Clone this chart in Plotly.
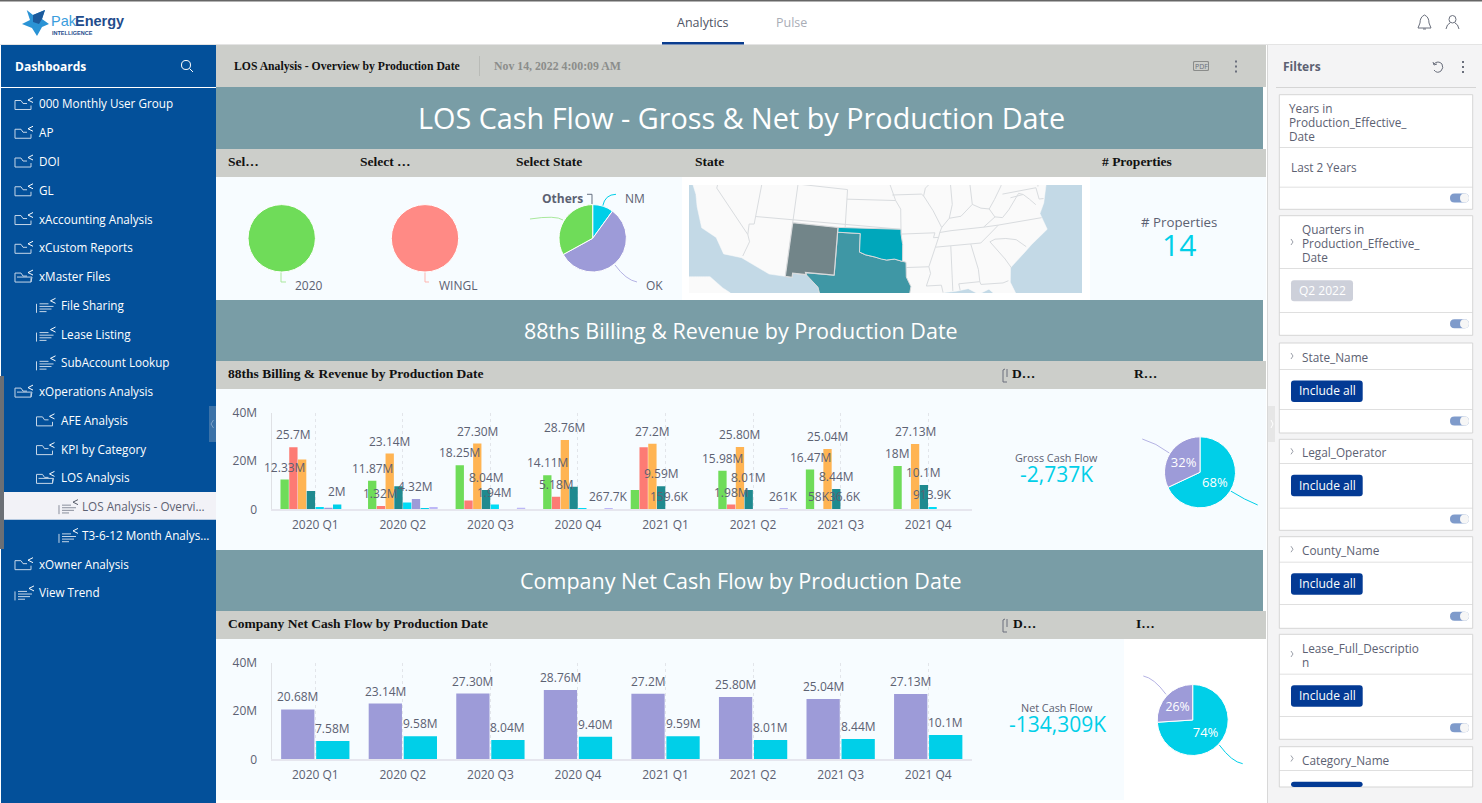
import re
import numpy as np
import plotly.graph_objects as go

W, H = 1482, 803

# ---- data ----
quarters = ["2020 Q1", "2020 Q2", "2020 Q3", "2020 Q4", "2021 Q1", "2021 Q2", "2021 Q3", "2021 Q4"]
y_ticks = [0, 20, 40]
y_tick_labels = ["0", "20M", "40M"]

gross_green = [12.33, 11.87, 18.25, 14.11, 8.0, 15.98, 16.47, 18]
gross_red = [25.7, 1.32, 3.6, 5.18, 25.7, 1.98, 0.058, 0.15]
gross_orange = [20.68, 23.14, 27.30, 28.76, 27.2, 25.80, 25.04, 27.13]
gross_teal = [7.58, 9.58, 8.04, 9.40, 9.59, 8.01, 8.44, 10.1]
gross_aqua = [1.0, 2.8, 1.94, 0.2, 0.1596, 0.05, 0.0366, 0.9139]
gross_purple = [0.6, 4.32, 0, 0, 0, 0, 0, 0]
gross_cyan = [2, 0.2, 0, 0, 0, 0, 0, 0]
gross_lilac = [0, 1.0, 0.6, 0.2677, 0, 0.261, 0, 0]

green_labels = ["12.33M", "11.87M", "18.25M", "14.11M", "", "15.98M", "16.47M", "18M"]
red_labels = ["25.7M", "1.32M", "", "5.18M", "", "1.98M", "58K", ""]
orange_labels = ["", "23.14M", "27.30M", "28.76M", "27.2M", "25.80M", "25.04M", "27.13M"]
teal_labels = ["", "", "8.04M", "", "9.59M", "8.01M", "8.44M", "10.1M"]
aqua_labels = ["", "", "1.94M", "", "159.6K", "", "36.6K", "913.9K"]
purple_labels = ["", "4.32M", "", "", "", "", "", ""]
cyan_labels = ["2M", "", "", "", "", "", "", ""]
lilac_labels = ["", "", "", "267.7K", "", "261K", "", ""]

gross_series = [
    (gross_green, green_labels, "#6fdc59"),
    (gross_red, red_labels, "#fd7b74"),
    (gross_orange, orange_labels, "#ffb453"),
    (gross_teal, teal_labels, "#1f8a8f"),
    (gross_aqua, aqua_labels, "#00dcf5"),
    (gross_purple, purple_labels, "#9d9bd8"),
    (gross_cyan, cyan_labels, "#00cfe8"),
    (gross_lilac, lilac_labels, "#bdb8f7"),
]

net_purple = [20.68, 23.14, 27.30, 28.76, 27.2, 25.80, 25.04, 27.13]
net_cyan = [7.58, 9.58, 8.04, 9.40, 9.59, 8.01, 8.44, 10.1]
net_purple_labels = ["20.68M", "23.14M", "27.30M", "28.76M", "27.2M", "25.80M", "25.04M", "27.13M"]
net_cyan_labels = ["7.58M", "9.58M", "8.04M", "9.40M", "9.59M", "8.01M", "8.44M", "10.1M"]

state_labels = ["NM", "OK", "Others"]
state_values = [10, 57, 33]
gross_pie_values = [68, 32]
net_pie_values = [74, 26]

sidebar_items = ["000 Monthly User Group", "AP", "DOI", "GL", "xAccounting Analysis", "xCustom Reports",
                 "xMaster Files", "File Sharing", "Lease Listing", "SubAccount Lookup", "xOperations Analysis",
                 "AFE Analysis", "KPI by Category", "LOS Analysis", "LOS Analysis - Overvi...",
                 "T3-6-12 Month Analys...", "xOwner Analysis", "View Trend"]
sidebar_levels = [0, 0, 0, 0, 0, 0, 0, 1, 1, 1, 0, 1, 1, 1, 2, 2, 0, 0]
sidebar_icons = ["f", "f", "f", "f", "f", "f", "o", "r", "r", "r", "o", "f", "f", "o", "r", "r", "f", "r"]

# map outlines, lon / lat
land_lon = [-124.7, -124.2, -124, -123.8, -122.5, -121.9, -120.6, -118.5, -117.1, -114.8, -111.07, -108.2, -108.2,
            -106.5, -104.9, -104.5, -103.2, -102.4, -101.4, -100.3, -99.5, -97.4, -97.4, -96, -94.7, -93.8, -92,
            -90.9, -89.4, -89.4, -88, -86.5, -85.3, -84, -83, -82.6, -81.8, -80.3, -80, -81.3, -81, -79, -77.9,
            -75.5, -76, -75.2, -74, -72, -70, -67, -67]
land_lat = [49, 41.9, 40.4, 39.3, 37.8, 36.6, 34.6, 34, 32.5, 32.5, 31.33, 31.33, 31.78,
            31.78, 30.6, 29.6, 29, 29.8, 29.77, 28.3, 27.5, 25.85, 27.3, 28.5, 29.4, 29.7, 29.6,
            29.05, 29, 30.2, 30.25, 30.4, 29.7, 30.1, 29.1, 27.8, 26, 25.3, 26.8, 30.5, 32, 33.3, 34,
            35.25, 37, 38, 40.5, 41, 41.7, 45, 49]
baja_lon = [-123, -118.1, -116.3, -115.3, -115, -123]
baja_lat = [28.7, 29.85, 29, 28.65, 27.5, 27]
nm_lon = [-109.05, -103, -103.04, -106.62, -106.5, -108.2, -108.2, -109.05, -109.05]
nm_lat = [37, 37, 32, 32, 31.78, 31.78, 31.33, 31.33, 37]
ok_lon = [-103, -94.62, -94.62, -94.43, -94.48, -95.5, -96.5, -97.2, -98, -99.2, -100, -100, -103, -103]
ok_lat = [37, 37, 36.5, 35.4, 33.64, 33.9, 33.8, 33.9, 34.1, 34.3, 34.56, 36.5, 36.5, 37]
tx_lon = [-103, -100, -100, -99.2, -98, -97.2, -96.5, -95.5, -94.48, -94.04, -94.04, -93.5, -93.8, -94.7, -96, -97.4,
          -97.4, -99.5, -100.3, -101.4, -102.4, -103.2, -104.5, -104.9, -106.5, -106.62, -103.04, -103]
tx_lat = [36.5, 36.5, 34.56, 34.3, 34.1, 33.9, 33.8, 33.9, 33.64, 33.55, 32, 31, 29.7, 29.4, 28.5, 27.3,
          25.85, 27.5, 28.3, 29.77, 29.8, 29, 29.6, 30.6, 31.78, 32, 32, 36.5]
state_borders = [
    [(-120, 42), (-120, 39), (-114.6, 35)],
    [(-114.05, 42), (-114.05, 36.2), (-114.7, 36.1), (-114.6, 35), (-114.2, 34.3), (-114.7, 32.7)],
    [(-114.05, 37), (-94.62, 37)],
    [(-109.05, 41), (-109.05, 37)],
    [(-111.05, 42), (-111.05, 41), (-102.05, 41), (-102.05, 37)],
    [(-102.05, 40), (-95.3, 40), (-94.62, 39.1), (-94.62, 36.5), (-90.15, 36.5), (-90.37, 36), (-89.7, 36)],
    [(-95.3, 40), (-95.9, 41.3), (-96.5, 42.5)],
    [(-94.04, 33), (-91.17, 33)],
    [(-91.1, 41.2), (-91.4, 40.4), (-90.2, 38.8), (-89.2, 37), (-89.5, 36.5), (-89.7, 36), (-90.2, 35), (-91.17, 33),
     (-91, 32.3), (-91.6, 31), (-89.75, 31), (-89.6, 30.2)],
    [(-91.1, 41.2), (-90.2, 41.8), (-90.6, 42.5)],
    [(-95.77, 40.58), (-91.7, 40.6), (-91.4, 40.4)],
    [(-89.2, 37), (-88.1, 37.9), (-86.5, 38), (-85.4, 38.7), (-84.8, 39.1), (-83.7, 38.6), (-82.6, 38.4)],
    [(-87.53, 42), (-87.53, 39.3), (-88.1, 37.9)],
    [(-84.8, 42), (-84.8, 39.1)],
    [(-89.5, 36.5), (-88, 36.6), (-83.67, 36.6), (-81.7, 36.6), (-75.9, 36.55)],
    [(-90.2, 35), (-84.3, 35), (-83, 35.8), (-81.7, 36.6)],
    [(-88.2, 35), (-88.4, 30.3)],
    [(-85.6, 35), (-85, 32.3), (-85, 31)],
    [(-87.5, 30.3), (-87.6, 31), (-85, 31), (-84.9, 30.7), (-82.2, 30.55), (-81.5, 30.7)],
    [(-83.1, 35), (-81.5, 33), (-80.9, 32)],
    [(-83.1, 35), (-82.4, 35.2), (-81, 35.1), (-79.7, 34.8), (-78.6, 33.9)],
    [(-81.97, 37.5), (-83.67, 36.6)],
    [(-82.6, 38.4), (-82, 37.5), (-81, 37.3), (-80, 38), (-78.3, 39.5), (-77.7, 39.3)],
    [(-80.5, 42), (-80.5, 40.6), (-81.7, 39.3), (-82.6, 38.4)],
    [(-80.5, 39.72), (-75.8, 39.72), (-75.7, 38.5), (-75.1, 38.45)],
    [(-79.5, 39.2), (-77.7, 39.3), (-77, 38.7), (-76.3, 38)],
    [(-79.8, 42.2), (-75.4, 42), (-74.7, 41.4), (-75.2, 40.6), (-75.5, 39.8)],
    [(-87.5, 41.75), (-84.8, 41.75), (-83.5, 41.73), (-82.5, 41.4), (-81, 41.9)],
]

filter_cards = [
    {"title": ["Years in", "Production_Effective_", "Date"], "value": "Last 2 Years", "kind": "text"},
    {"title": ["Quarters in", "Production_Effective_", "Date"], "value": "Q2 2022", "kind": "chip"},
    {"title": ["State_Name"], "value": "Include all", "kind": "btn"},
    {"title": ["Legal_Operator"], "value": "Include all", "kind": "btn"},
    {"title": ["County_Name"], "value": "Include all", "kind": "btn"},
    {"title": ["Lease_Full_Descriptio", "n"], "value": "Include all", "kind": "btn"},
    {"title": ["Category_Name"], "value": "Include all", "kind": "btn"},
]

# ---- colours ----
GRAY_BAR = "#ccceca"
TEAL_BANNER = "#799da6"
PALE = "#f7fcff"
SIDE = "#03509a"
TXT = "#5c6172"
CYAN = "#00cfe8"
PURPLE = "#9d9bd8"
SANS = "Open Sans"
SERIF = "Liberation Serif"

shapes = []
annotations = []


def px(x):
    return x / W


def py(y):
    return 1 - y / H


def rect(x0, y0, x1, y1, fill, line=None, lw=1):
    shapes.append(dict(type="rect", xref="paper", yref="paper", layer="below", x0=px(x0), x1=px(x1), y0=py(y0), y1=py(y1),
                       fillcolor=fill, line=dict(color=line, width=lw) if line else dict(width=0)))


# path written in page pixels, converted here to paper units
def path(d, color=None, lw=1, fill=None):
    toks = re.findall(r"[A-Za-z]|-?\d+\.?\d*", d)
    out, i = [], 0
    for t in toks:
        if t.isalpha():
            out.append(t)
        else:
            out.append(f"{px(float(t)) if i % 2 == 0 else py(float(t)):.5f}")
            i += 1
    shapes.append(dict(type="path", xref="paper", yref="paper", layer="below", path=" ".join(out),
                       fillcolor=fill if fill else "rgba(0,0,0,0)",
                       line=dict(color=color, width=lw) if color else dict(width=0)))


def txt(x, y, s, size=12, color=TXT, family=SANS, anchor="left", bold=False):
    annotations.append(dict(xref="paper", yref="paper", x=px(x), y=py(y), text=f"<b>{s}</b>" if bold else s,
                            showarrow=False, xanchor=anchor, yanchor="middle", borderpad=0, borderwidth=0,
                            font=dict(size=size, color=color, family=family)))


def round_rect(x0, y0, x1, y1, r, fill):
    path(f"M {x0 + r} {y0} L {x1 - r} {y0} Q {x1} {y0} {x1} {y0 + r} L {x1} {y1 - r} Q {x1} {y1} {x1 - r} {y1} "
         f"L {x0 + r} {y1} Q {x0} {y1} {x0} {y1 - r} L {x0} {y0 + r} Q {x0} {y0} {x0 + r} {y0} Z", fill=fill)


def dots(x, y):
    for dy in (-5, 0, 5):
        rect(x - 1, y + dy - 1, x + 1, y + dy + 1, "#6a6f7c")


def share(x, y, color="#ffffff"):
    path(f"M {x + 5} {y - 2.5} L {x} {y} L {x + 5} {y + 2.5}", color=color, lw=1)


def sidebar_icon(kind, x, y, color):
    if kind == "r":
        for k, ln in enumerate((9, 14, 12, 7)):
            path(f"M {x + 3} {y - 1 + k * 2.6} L {x + 3 + ln} {y - 1 + k * 2.6}", color=color, lw=1)
        path(f"M {x} {y - 1} L {x} {y + 8}", color=color, lw=1)
        share(x + 14, y - 4, "#ffffff" if color != "#8a8f9c" else "#555a68")
    else:
        path(f"M {x} {y - 3} L {x + 6} {y - 3} L {x + 8} {y} L {x + 12} {y} M {x} {y - 3} L {x} {y + 6} "
             f"L {x + 16} {y + 6} L {x + 16} {y + 2}", color="#c6d6e8", lw=1)
        if kind == "o":
            path(f"M {x + 2} {y + 1} L {x + 17} {y + 1} L {x + 16} {y + 6}", color="#c6d6e8", lw=1)
        share(x + 13, y - 3.5)


# ---- page chrome ----
rect(0, 0, W, 1.5, "#666666")
rect(0, 44, W, 45, "#e4e4e4")
# logo
path("M 26.7 10 L 33 15 L 45 10 L 42 19 L 49 24 L 42 27 L 37 36 L 32 28 L 22 24 L 30 20 Z", fill="#2a93d5")
path("M 33 15 L 45 10 L 42 19 L 39 24 L 33 22 Z", fill="#1c5a9c")
txt(51, 21, "Pak", 14.5, "#3a9ddd", "Liberation Sans")
txt(75, 21, "Energy", 14.5, "#1f4c8c", "Liberation Sans", bold=True)
txt(52, 33.5, "INTELLIGENCE", 5.5, "#1f4c8c", "Liberation Sans", bold=True)
# tabs
txt(702.5, 22.5, "Analytics", 12.5, "#4f5566", anchor="center")
txt(791, 22.5, "Pulse", 12.5, "#a9adb6", anchor="center")
rect(662, 42, 744, 44.5, "#0a3d8f")
# bell + user
path("M 1424.5 15 Q 1420 17 1420 23 L 1418 28 L 1431 28 L 1429 23 Q 1429 17 1424.5 15 Z M 1423 29 L 1426 29", color="#6a6f7c")
path("M 1452.5 15.5 Q 1456 15.5 1456 19.5 Q 1456 23 1452.5 23 Q 1449 23 1449 19.5 Q 1449 15.5 1452.5 15.5 Z "
     "M 1446 29 Q 1447 24 1450 23 M 1459 29 Q 1458 24 1455 23", color="#6a6f7c")

# sidebar
rect(1, 45, 216, H, SIDE)
rect(0, 376, 4, 549, "#6b6f75")
rect(1, 87, 216, 88, "#ffffff")
txt(15, 66.5, "Dashboards", 12, "#ffffff", bold=True)
path("M 186 60.5 Q 190.5 60.5 190.5 65 Q 190.5 69.5 186 69.5 Q 181.5 69.5 181.5 65 Q 181.5 60.5 186 60.5 Z "
     "M 189.5 68.5 L 193 72", color="#ffffff")
rect(4, 492, 216, 519.7, "#f2f2f7")
for i, (name, lvl, ic) in enumerate(zip(sidebar_items, sidebar_levels, sidebar_icons)):
    y = 103.5 + i * 28.76
    selected = i == 14
    sidebar_icon(ic, 15 + 21.5 * lvl + (1 if lvl == 2 else 0), y, "#8a8f9c" if selected else "#c6d6e8")
    txt(39 + 21.5 * lvl, y, name, 11.7, TXT if selected else "#ffffff")
rect(209, 406, 216, 442, "#3b72a8")
path("M 213.5 420 L 211 424 L 213.5 428", color="#7fa3c8")

# toolbar and banners
rect(216, 45, 1266, 87, GRAY_BAR)
txt(234, 66, "LOS Analysis - Overview by Production Date", 11.7, "#111111", SERIF, bold=True)
rect(479, 56, 480, 76, "#b9bbb7")
txt(494, 66, "Nov 14, 2022 4:00:09 AM", 11.8, "#8b8d8b", SERIF, bold=True)
round_rect(1193, 61, 1209, 71, 1.5, "#8a8c8a")
round_rect(1194, 62, 1208, 70, 1, GRAY_BAR)
txt(1201, 66, "PDF", 7, "#6a6f7c", anchor="center")
dots(1236, 66.5)

banners = [(87, 149, "LOS Cash Flow - Gross &amp; Net by Production Date", 28.8),
           (300, 361, "88ths Billing &amp; Revenue by Production Date", 21.5),
           (550, 611, "Company Net Cash Flow by Production Date", 21.5)]
for y0, y1, label, size in banners:
    rect(216, y0, 1263, y1, TEAL_BANNER)
    txt(741, (y0 + y1) / 2 - 0.5, label, size, "#ffffff", anchor="center")

header_rows = [(149, 177, [(228, "Sel…"), (360, "Select …"), (516, "Select State"), (695, "State"), (1102, "# Properties")]),
               (361, 389, [(228, "88ths Billing &amp; Revenue by Production Date"), (1012, "D…"), (1134, "R…")]),
               (611, 639, [(228, "Company Net Cash Flow by Production Date"), (1013, "D…"), (1136, "I…")])]
for y0, y1, items in header_rows:
    rect(216, y0, 1266, y1, GRAY_BAR)
    for x, label in items:
        txt(x, (y0 + y1) / 2 - 1.5, label, 13.5, "#111111", SERIF, bold=True)
for y in (375, 625):
    path(f"M 1005 {y - 6} L 1003 {y - 5} L 1003 {y + 7} L 1007 {y + 7} M 1007 {y - 6} L 1007 {y + 2}", color="#6a6f7c")

# panels
rect(216, 177, 1266, 300, PALE)
rect(682, 177, 1090, 300, "#ffffff")
rect(689, 185, 1082, 293, "#c3d9e6")
rect(216, 389, 1266, 550, PALE)
rect(216, 639, 1124, 800, PALE)

# kpi text
txt(1179, 222, "# Properties", 13.3, TXT, anchor="center")
txt(1179, 244, "14", 30, CYAN, anchor="center")
txt(1056, 457.5, "Gross Cash Flow", 10.8, TXT, anchor="center")
txt(1056, 474, "-2,737K", 21, CYAN, anchor="center")
txt(1057, 707.5, "Net Cash Flow", 10.8, TXT, anchor="center")
txt(1057, 724, "-134,309K", 21, CYAN, anchor="center")

# pie labels and leader lines
txt(295, 285, "2020", 12, TXT)
txt(439, 285, "WINGL", 12, TXT)
txt(542, 198, "Others", 12, TXT, bold=True)
txt(625, 198, "NM", 12, TXT)
txt(646, 285, "OK", 12, TXT)
path("M 281 272 L 281 282 L 286 282", color="#a9e89c")
path("M 425 272 L 425 282 L 429 282", color="#ffb5b0")
path("M 587 194.3 L 592 194.3 L 592 204", color="#667080")
path("M 602.7 206 Q 605 194.5 616 194.3", color=CYAN)
path("M 615 265 Q 626 280 637 282", color="#b5b3e4")
path("M 563 220 Q 556 215 530 219", color="#a9e89c")
path("M 1169.3 453 Q 1156 443 1142.3 439", color="#b5b3e4")
path("M 1230.7 491 Q 1245 500 1257.7 505", color=CYAN)
path("M 1166 694.3 Q 1154 678 1143.3 676", color="#b5b3e4")
path("M 1219.3 745 Q 1232 762 1242.7 763.7", color=CYAN)

# filter panel
rect(1267, 45, 1268, H, "#d8d8d8")
rect(1268, 45, W, H, "#f4f4f5")
rect(1268, 406, 1275, 442, "#e6e6e6")
path("M 1271 420 L 1273 424 L 1271 428", color="#ffffff")
txt(1283, 66.5, "Filters", 12, TXT, bold=True)
path("M 1434 64 Q 1438 60 1442 64 Q 1444 68 1441 71 Q 1437 74 1434 70 M 1433 62 L 1434 65 L 1437 64", color="#6a6f7c")
dots(1463, 67)
rect(1276, 87, 1476, 88, "#d5d5d5")

card_tops = [94.7, 215.7, 343, 439.3, 536.7, 634.3, 746.7]
card_line1 = [147.3, 268.3, 369, 463.3, 561.7, 673.7, 770.3]
card_line2 = [186.7, 312.3, 409, 507.7, 604.3, 716.3, None]
card_bottoms = [209.3, 335.3, 433, 530.3, 628.3, 739.3, 787]
for c, t, l1, l2, b in zip(filter_cards, card_tops, card_line1, card_line2, card_bottoms):
    rect(1279.3, t, 1472.7, b, "#ffffff", "#d5d5d5")
    rect(1279.3, l1, 1472.7, l1 + 0.8, "#d5d5d5")
    n = len(c["title"])
    tx = 1289 if c["kind"] == "text" else 1301.7
    for k, line in enumerate(c["title"]):
        txt(tx, (t + l1) / 2 + 1 + (k - (n - 1) / 2) * 14.3, line, 11.8, TXT)
    if c["kind"] != "text":
        ym = (t + l1) / 2
        path(f"M 1291 {ym - 3} L 1293 {ym} L 1291 {ym + 3}", color="#9a9ea8")
    bot = l2 if l2 else b
    if c["kind"] == "text":
        txt(1291, (l1 + bot) / 2, c["value"], 11.8, TXT)
    elif c["kind"] == "chip":
        round_rect(1291, l1 + 12, 1353, l1 + 33, 3, "#cdd0da")
        txt(1322, l1 + 22.5, c["value"], 12, "#ffffff", anchor="center")
    else:
        round_rect(1291, l1 + 11.5, 1362.7, min(l1 + 33, b), 3, "#033a94")
        if l2:
            txt(1327, l1 + 21.8, c["value"], 12, "#ffffff", anchor="center")
    if l2:
        rect(1279.3, l2, 1472.7, l2 + 0.8, "#d5d5d5")
        ym = (l2 + b) / 2
        round_rect(1450, ym - 4.5, 1469, ym + 4.5, 4.5, "#7f9bcb")
        round_rect(1460, ym - 4.5, 1469, ym + 4.5, 4.5, "#f6f6f6")


# bar labels go in annotations so they sit over every bar
def bar_labels(vals, labels, idx, n, xname, yname):
    for i, (v, lab) in enumerate(zip(vals, labels)):
        if lab:
            annotations.append(dict(xref=xname, yref=yname, x=i + (idx - (n - 1) / 2) * 0.8 / n, y=v, text=lab,
                                    showarrow=False, xanchor="center", yanchor="bottom", yshift=3, borderpad=0,
                                    font=dict(size=12, color=TXT, family=SANS)))


# ---- traces ----
fig = go.Figure()
for k, (vals, labels, color) in enumerate(gross_series):
    fig.add_trace(go.Bar(x=quarters, y=vals, marker=dict(color=color), xaxis="x", yaxis="y",
                         hoverinfo="skip", showlegend=False))
    bar_labels(vals, labels, k, len(gross_series), "x", "y")
net_series = [(net_purple, net_purple_labels, PURPLE), (net_cyan, net_cyan_labels, CYAN)]
for k, (vals, labels, color) in enumerate(net_series):
    fig.add_trace(go.Bar(x=quarters, y=vals, marker=dict(color=color), xaxis="x2", yaxis="y2",
                         hoverinfo="skip", showlegend=False))
    bar_labels(vals, labels, k, len(net_series), "x2", "y2")


def pie_domain(cx, cy, r):
    return dict(x=[px(cx - r), px(cx + r)], y=[py(cy + r), py(cy - r)])


pie_line = dict(color="#ffffff", width=1)
fig.add_trace(go.Pie(values=[1], labels=["2020"], marker=dict(colors=["#6fdc59"], line=pie_line), textinfo="none",
                     domain=pie_domain(281.7, 238.3, 33.7), sort=False, hoverinfo="skip", showlegend=False))
fig.add_trace(go.Pie(values=[1], labels=["WINGL"], marker=dict(colors=["#ff8a85"], line=pie_line), textinfo="none",
                     domain=pie_domain(425, 238.3, 33.7), sort=False, hoverinfo="skip", showlegend=False))
fig.add_trace(go.Pie(values=state_values, labels=state_labels, marker=dict(colors=[CYAN, PURPLE, "#6fdc59"], line=pie_line),
                     textinfo="none", direction="clockwise", sort=False, rotation=0,
                     domain=pie_domain(592.7, 238.3, 33.7), hoverinfo="skip", showlegend=False))
for vals, cx, cy in [(gross_pie_values, 1200, 472.3), (net_pie_values, 1192.7, 720)]:
    fig.add_trace(go.Pie(values=vals, labels=["a", "b"], marker=dict(colors=[CYAN, PURPLE], line=pie_line),
                         textinfo="percent", textposition="inside", insidetextorientation="horizontal",
                         textfont=dict(size=13, color="#ffffff", family=SANS), direction="clockwise", sort=False, rotation=0,
                         domain=pie_domain(cx, cy, 35.5), hoverinfo="skip", showlegend=False))


# map: albers conic, the axis ranges do the crop
def albers(lon, lat):
    lon, lat = np.radians(np.asarray(lon, float) + 96), np.radians(np.asarray(lat, float))
    p1, p2, p0 = np.radians(29.5), np.radians(45.5), np.radians(37.5)
    n = (np.sin(p1) + np.sin(p2)) / 2
    c = np.cos(p1) ** 2 + 2 * n * np.sin(p1)
    rho = np.sqrt(c - 2 * n * np.sin(lat)) / n
    rho0 = np.sqrt(c - 2 * n * np.sin(p0)) / n
    return rho * np.sin(n * lon), rho0 - rho * np.cos(n * lon)


def map_poly(lon, lat, fill, line, lw=1):
    x, y = albers(lon, lat)
    fig.add_trace(go.Scatter(x=x, y=y, mode="lines", fill="toself", fillcolor=fill, line=dict(color=line, width=lw),
                             xaxis="x3", yaxis="y3", hoverinfo="skip", showlegend=False))


map_poly(land_lon, land_lat, "#fafafa", "#fafafa", 0.5)
map_poly(baja_lon, baja_lat, "#fafafa", "#fafafa", 0.5)
for border in state_borders:
    lon, lat = zip(*border)
    x, y = albers(lon, lat)
    fig.add_trace(go.Scatter(x=x, y=y, mode="lines", line=dict(color="#d9dcdf", width=1), xaxis="x3", yaxis="y3",
                             hoverinfo="skip", showlegend=False))
map_poly(tx_lon, tx_lat, "#3f97a5", "#d8dadc", 1)
map_poly(ok_lon, ok_lat, "#00a7bb", "#d8dadc", 1)
map_poly(nm_lon, nm_lat, "#728589", "#d8dadc", 1.2)


def bar_axes(y0, y1):
    xa = dict(domain=[px(271.5), px(972)], type="category", range=[-0.5, 7.5], showgrid=True, griddash="dot",
              gridcolor="#e2e5ea", gridwidth=1, showline=True, linecolor="#e6e6ee", linewidth=2, ticks="outside",
              ticklen=3, tickcolor="rgba(0,0,0,0)", tickfont=dict(size=12, color=TXT, family=SANS), fixedrange=True,
              zeroline=False, automargin=False)
    ya = dict(domain=[py(y0), py(y1)], range=[0, 40], tickvals=y_ticks, ticktext=y_tick_labels, showgrid=False,
              showline=True, linecolor="#dfe1e5", linewidth=1, ticks="outside", ticklen=11, tickcolor="rgba(0,0,0,0)",
              tickfont=dict(size=12, color=TXT, family=SANS), fixedrange=True, zeroline=False, automargin=False)
    return xa, ya


xa1, ya1 = bar_axes(509.3, 412.9)
xa2, ya2 = bar_axes(759.3, 662.9)
xa2["anchor"] = "y2"
ya2["anchor"] = "x2"
hidden = dict(visible=False, fixedrange=True, automargin=False)

fig.update_layout(
    template="none",
    width=W,
    height=H,
    margin=dict(l=0, r=0, t=0, b=0, pad=0, autoexpand=False),
    paper_bgcolor="#ffffff",
    plot_bgcolor="rgba(0,0,0,0)",
    barmode="group",
    bargap=0.2,
    bargroupgap=0.05,
    showlegend=False,
    hovermode=False,
    xaxis=xa1,
    yaxis=ya1,
    xaxis2=xa2,
    yaxis2=ya2,
    xaxis3=dict(domain=[px(689), px(1082)], range=[-0.3699, 0.3512], anchor="y3", **hidden),
    yaxis3=dict(domain=[py(293), py(185)], range=[-0.1256, 0.0726], anchor="x3", **hidden),
    shapes=shapes,
    annotations=annotations,
)

fig.write_html("out.html", config=dict(displayModeBar=False),
               post_script="document.body.style.margin='0';document.body.style.overflow='hidden';")
